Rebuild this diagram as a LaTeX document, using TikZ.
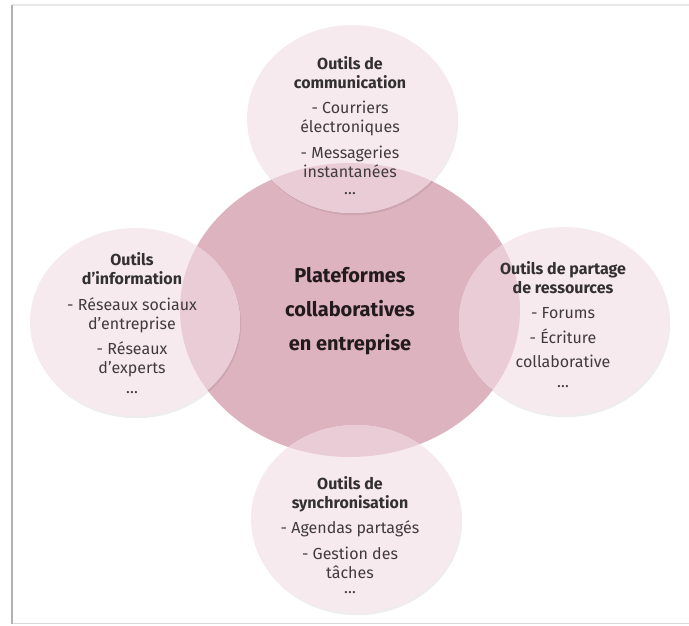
\documentclass[tikz,border=0pt]{standalone}
\usepackage{fontspec}
\setmainfont{Fira Sans}
\usetikzlibrary{shapes.geometric}
\definecolor{centrefill}{HTML}{DDB3C0}
\definecolor{satfill}{RGB}{247,234,239}
\definecolor{overlapfill}{RGB}{234,204,214}
\definecolor{headgrey}{HTML}{333031}
\definecolor{itemgrey}{HTML}{403B3D}
\definecolor{titleink}{HTML}{231A1E}
\begin{document}
\begin{tikzpicture}[x=1pt,y=-1pt,
  centreshape/.style={ellipse, fill=centrefill, inner sep=0pt, minimum width=340pt, minimum height=294pt},
  satshape/.style={ellipse, fill=satfill, inner sep=0pt, minimum width=210pt, minimum height=188pt},
  satshadow/.style={fill=black, fill opacity=0.07},
  sattext/.style={align=center, inner sep=0pt, font=\fontsize{16}{19}\selectfont, text=itemgrey},
  titletext/.style={align=center, inner sep=0pt, font=\fontsize{20}{34}\selectfont\bfseries, text=titleink}]
\useasboundingbox (0,0) rectangle (689,625);
\fill[white] (0,0) rectangle (689,625);
% frame
\draw[black!9, line width=1.5pt] (12,5) -- (689,5);
\draw[black!15, line width=1.5pt] (12,623.5) -- (689,623.5);
\draw[black!30, line width=2pt] (12,5) -- (12,624);
% central shape
\node[centreshape] (centre) at (350,310) {};
% satellite shadows
\foreach \p in {(352,119),(135,322),(564,321),(356,519)}{
  \fill[satshadow] \p ++(1.2,2.2) ellipse [x radius=105pt, y radius=94pt];
}
% satellites
\node[satshape] (top) at (352,119) {};
\node[satshape] (left) at (135,322) {};
\node[satshape] (right) at (564,321) {};
\node[satshape] (bottom) at (356,519) {};
% overlaps
\foreach \s in {top,left,right,bottom}{
  \begin{scope}
    \clip (\s.center) ellipse [x radius=105pt, y radius=94pt];
    \fill[overlapfill] (centre.center) ellipse [x radius=170pt, y radius=147pt];
  \end{scope}
}
% texts
\node[titletext] (centreT) at (350,311) {Plateformes\\collaboratives\\en entreprise};
\node[sattext] (topT) at (350,126) {\textcolor{headgrey}{\bfseries Outils de}\\\textcolor{headgrey}{\bfseries communication}\\[6pt]- Courriers\\électroniques\\[7pt]- Messageries\\instantanées\\[-2pt]{\dots}};
\node[sattext] (leftT) at (132,323) {\textcolor{headgrey}{\bfseries Outils}\\\textcolor{headgrey}{\bfseries d’information}\\[7pt]- Réseaux sociaux\\d’entreprise\\[6pt]- Réseaux\\d’experts\\[1pt]{\dots}};
\node[sattext] (rightT) at (563,325) {\textcolor{headgrey}{\bfseries Outils de partage}\\\textcolor{headgrey}{\bfseries de ressources}\\[6pt]- Forums\\[6pt]- Écriture\\[5pt]collaborative\\[1pt]{\dots}};
\node[sattext] (bottomT) at (350,535) {\textcolor{headgrey}{\bfseries Outils de}\\\textcolor{headgrey}{\bfseries synchronisation}\\[6pt]- Agendas partagés\\[7pt]- Gestion des\\tâches\\[-4pt]{\dots}};
\end{tikzpicture}
\end{document}
